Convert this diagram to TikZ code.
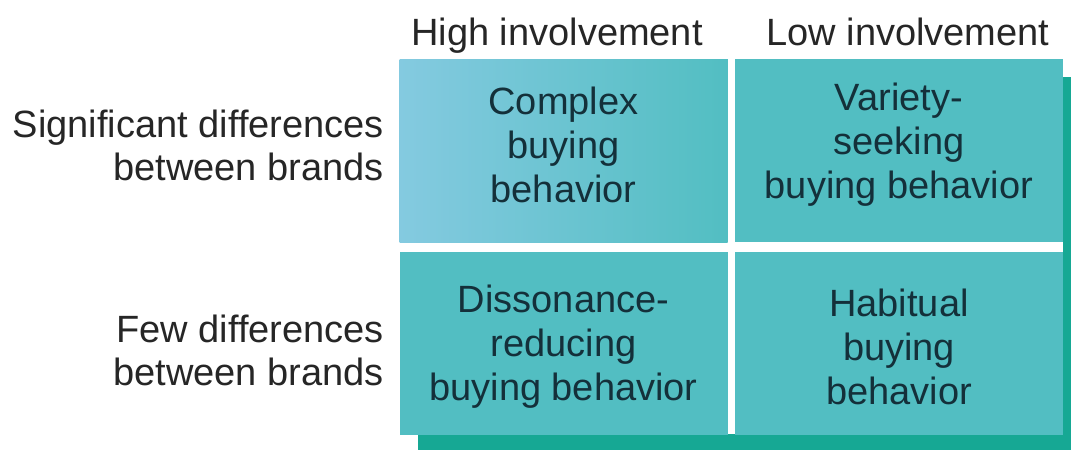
\documentclass[tikz,border=0pt]{standalone}
\usepackage{fontspec}
\setmainfont{Liberation Sans}
\definecolor{tealbox}{HTML}{52BEC2}
\definecolor{bluebox}{HTML}{84CAE0}
\definecolor{shadowc}{HTML}{16A894}
\definecolor{txtbox}{HTML}{14303A}
\definecolor{txtlab}{HTML}{262626}
\tikzset{
  cell/.style={fill=tealbox, inner sep=0pt, minimum width=328pt, minimum height=183pt},
  celltext/.style={align=center, text=txtbox, inner sep=0pt, font=\fontsize{38}{44}\selectfont},
  lab/.style={align=right, anchor=base east, text=txtlab, font=\fontsize{38}{43}\selectfont, inner sep=0pt},
  head/.style={anchor=base, text=txtlab, font=\fontsize{38}{42}\selectfont, inner sep=0pt}
}
\begin{document}
\begin{tikzpicture}[x=1pt,y=-1pt]
\useasboundingbox (0,0) rectangle (1071,450);
\fill[white] (0,0) rectangle (1071,450);
% shadow
\fill[shadowc] (418,77) rectangle (1071,450);
% white backing for the gaps
\fill[white] (400,59) rectangle (1063,434);
% cells
\node[cell, left color=bluebox, right color=tealbox] (c11) at (563.5,150.5) {};
\node[cell] (c12) at (899,150.5) {};
\node[cell] (c21) at (563.5,343) {};
\node[cell] (c22) at (899,343) {};
% cell texts
\node[celltext, yshift=6pt] (t11) at (c11.center) {Complex\\buying\\behavior};
\node[celltext, yshift=6pt] (t12) at (c12.center) {Variety-\\seeking\\buying behavior};
\node[celltext, yshift=-4pt] (t21) at (c21.center) {Dissonance-\\reducing\\buying behavior};
\node[celltext, yshift=-4pt] (t22) at (c22.center) {Habitual\\buying\\behavior};
% headers
\node[head] (h1) at (557,45) {High involvement};
\node[head] (h2) at (908,45) {Low involvement};
% row labels
\node[lab] (r1) at (384,180) {Significant differences\\between brands};
\node[lab] (r2) at (384,385) {Few differences\\between brands};
\end{tikzpicture}
\end{document}
